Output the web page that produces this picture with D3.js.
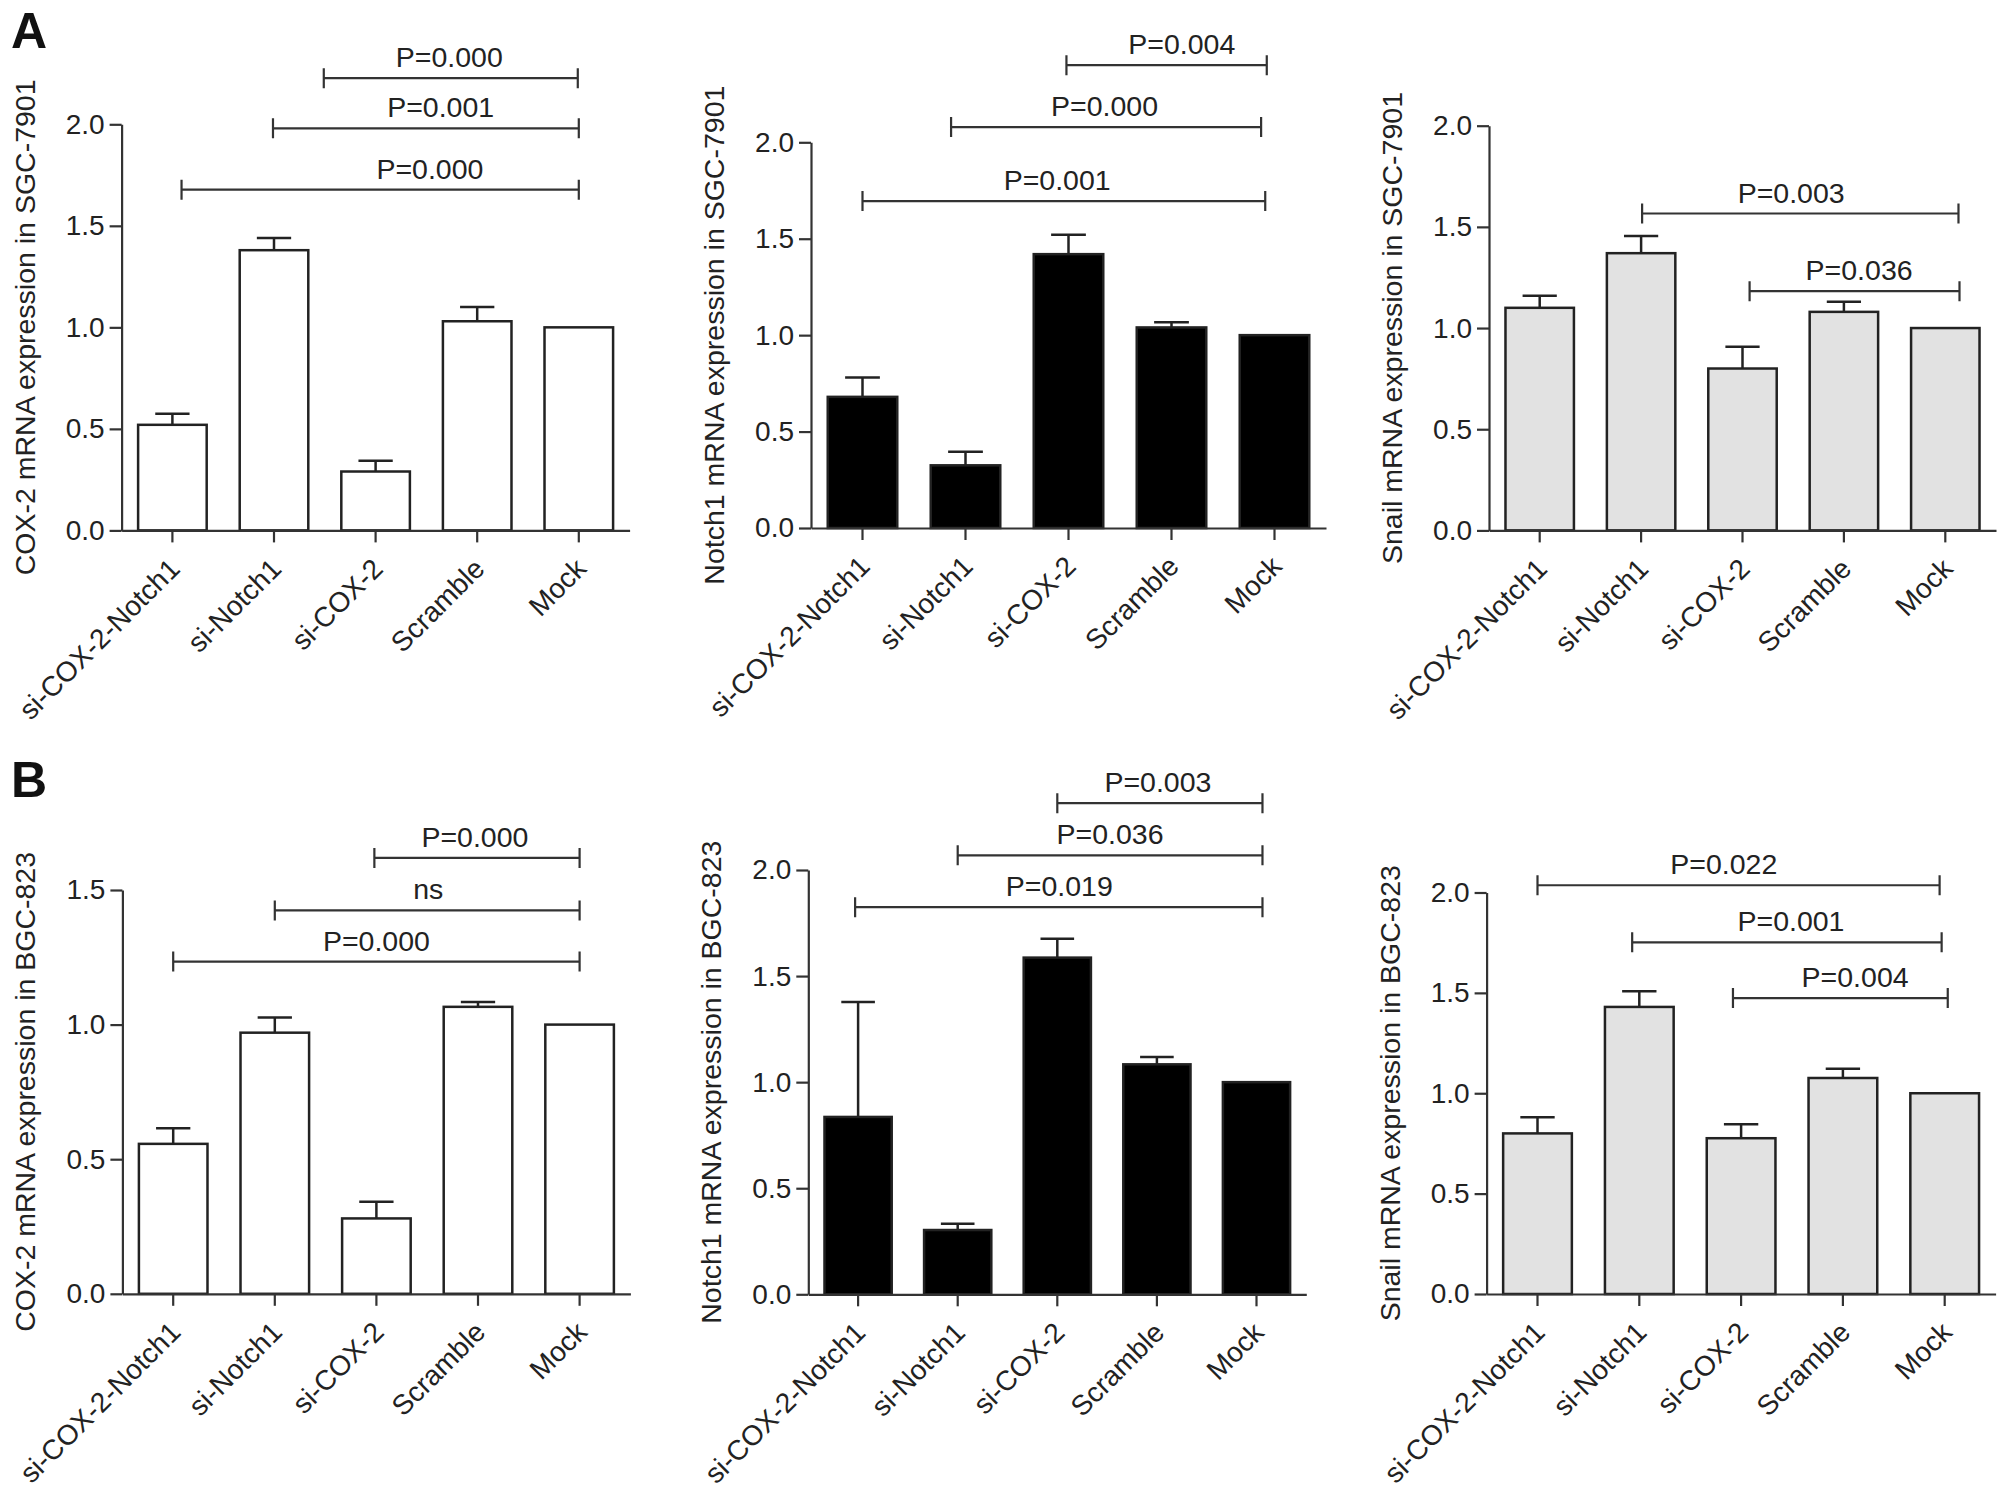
<!DOCTYPE html>
<html>
<head>
<meta charset="utf-8">
<script src="https://cdn.jsdelivr.net/npm/d3@7"></script>
<style>
	body { margin: 0; background: #fff; }
</style>
</head>
<body>
<div id="chart"></div>
<script>
// groups on the x axis, same for all six panels
var categories = ["si-COX-2-Notch1", "si-Notch1", "si-COX-2", "Scramble", "Mock"];

// mean and upper error (SEM)
var cox2Sgc = [0.52, 1.38, 0.29, 1.03, 1.00];
var cox2SgcErr = [0.055, 0.06, 0.053, 0.07, 0];
var notch1Sgc = [0.68, 0.325, 1.42, 1.04, 1.00];
var notch1SgcErr = [0.10, 0.07, 0.10, 0.027, 0];
var snailSgc = [1.10, 1.37, 0.80, 1.08, 1.00];
var snailSgcErr = [0.06, 0.085, 0.107, 0.05, 0];

var cox2Bgc = [0.557, 0.97, 0.28, 1.066, 1.00];
var cox2BgcErr = [0.058, 0.056, 0.062, 0.018, 0];
var notch1Bgc = [0.836, 0.303, 1.587, 1.084, 1.00];
var notch1BgcErr = [0.542, 0.03, 0.089, 0.034, 0];
var snailBgc = [0.80, 1.43, 0.776, 1.076, 1.00];
var snailBgcErr = [0.08, 0.078, 0.07, 0.046, 0];

// y axis ticks
var ticks2 = [0, 0.5, 1.0, 1.5, 2.0];
var ticks15 = [0, 0.5, 1.0, 1.5];

// significance brackets: from / to in group index, y in data units, label centre in group index
var pCox2Sgc = [
	{ from: 0.09, to: 4.0, y: 1.678, text: "P=0.000", at: 2.535 },
	{ from: 0.99, to: 4.0, y: 1.98, text: "P=0.001", at: 2.64 },
	{ from: 1.49, to: 3.99, y: 2.227, text: "P=0.000", at: 2.725 }
];
var pNotch1Sgc = [
	{ from: 0.0, to: 3.91, y: 1.695, text: "P=0.001", at: 1.89 },
	{ from: 0.86, to: 3.87, y: 2.079, text: "P=0.000", at: 2.35 },
	{ from: 1.98, to: 3.925, y: 2.40, text: "P=0.004", at: 3.10 }
];
var pSnailSgc = [
	{ from: 1.01, to: 4.13, y: 1.566, text: "P=0.003", at: 2.48 },
	{ from: 2.07, to: 4.14, y: 1.182, text: "P=0.036", at: 3.15 }
];
var pCox2Bgc = [
	{ from: 0.0, to: 4.0, y: 1.234, text: "P=0.000", at: 2.0 },
	{ from: 1.0, to: 4.0, y: 1.424, text: "ns", at: 2.51 },
	{ from: 1.98, to: 4.0, y: 1.619, text: "P=0.000", at: 2.97 }
];
var pNotch1Bgc = [
	{ from: -0.03, to: 4.06, y: 1.825, text: "P=0.019", at: 2.02 },
	{ from: 1.0, to: 4.06, y: 2.069, text: "P=0.036", at: 2.53 },
	{ from: 2.0, to: 4.06, y: 2.315, text: "P=0.003", at: 3.01 }
];
var pSnailBgc = [
	{ from: 0.0, to: 3.95, y: 2.036, text: "P=0.022", at: 1.83 },
	{ from: 0.93, to: 3.97, y: 1.752, text: "P=0.001", at: 2.49 },
	{ from: 1.92, to: 4.03, y: 1.474, text: "P=0.004", at: 3.12 }
];

var FONT = "'Liberation Sans', Arial, sans-serif";
var INK = "#222";

var svg = d3.select("#chart")
	.append("svg")
	.attr("width", 2007)
	.attr("height", 1500)
	.style("font-family", FONT);

svg.append("rect").attr("width", 2007).attr("height", 1500).attr("fill", "#fff");

// panel frames
var panels = [
	{ values: cox2Sgc, err: cox2SgcErr, p: pCox2Sgc, max: 2, ticks: ticks2, fill: "#fff",
		title: "COX-2 mRNA expression in SGC-7901", left: 121.6, width: 508, top: 124.3, bottom: 530.4 },
	{ values: notch1Sgc, err: notch1SgcErr, p: pNotch1Sgc, max: 2, ticks: ticks2, fill: "#000",
		title: "Notch1 mRNA expression in SGC-7901", left: 811, width: 515, top: 142.3, bottom: 528 },
	{ values: snailSgc, err: snailSgcErr, p: pSnailSgc, max: 2, ticks: ticks2, fill: "#e2e2e2",
		title: "Snail mRNA expression in SGC-7901", left: 1489, width: 507, top: 125.7, bottom: 530.4 },
	{ values: cox2Bgc, err: cox2BgcErr, p: pCox2Bgc, max: 1.5, ticks: ticks15, fill: "#fff",
		title: "COX-2 mRNA expression in BGC-823", left: 122.4, width: 508, top: 890, bottom: 1293.8 },
	{ values: notch1Bgc, err: notch1BgcErr, p: pNotch1Bgc, max: 2, ticks: ticks2, fill: "#000",
		title: "Notch1 mRNA expression in BGC-823", left: 808.3, width: 498, top: 870, bottom: 1294.3 },
	{ values: snailBgc, err: snailBgcErr, p: pSnailBgc, max: 2, ticks: ticks2, fill: "#e2e2e2",
		title: "Snail mRNA expression in BGC-823", left: 1486.6, width: 509, top: 892.5, bottom: 1294 }
];

panels.forEach(drawPanel);

// panel letters
svg.append("text").attr("x", 11).attr("y", 48).text("A")
	.style("font-size", "50px").style("font-weight", "bold").attr("fill", "#111");
svg.append("text").attr("x", 11).attr("y", 797).text("B")
	.style("font-size", "50px").style("font-weight", "bold").attr("fill", "#111");

function drawPanel(p) {
	var g = svg.append("g");

	var x = d3.scaleBand()
		.domain(categories)
		.range([p.left, p.left + p.width])
		.paddingInner(0.325)
		.paddingOuter(0.1625);
	var y = d3.scaleLinear()
		.domain([0, p.max])
		.range([p.bottom, p.top]);
	var bw = x.bandwidth();
	var cx = function(i) { return x(categories[i]) + bw / 2; };
	// bracket positions are given in group index
	var idx = d3.scaleLinear().domain([0, 4]).range([cx(0), cx(4)]);

	// error bars (upper only)
	var eb = g.selectAll(".err")
		.data(p.values.map(function(d, i) { return { m: d, e: p.err[i], i: i }; }).filter(function(d) { return d.e > 0; }))
		.join("g")
		.attr("class", "err")
		.attr("stroke", INK)
		.attr("stroke-width", 2.5);
	eb.append("line")
		.attr("x1", function(d) { return cx(d.i); })
		.attr("x2", function(d) { return cx(d.i); })
		.attr("y1", function(d) { return y(d.m); })
		.attr("y2", function(d) { return y(d.m + d.e); });
	eb.append("line")
		.attr("x1", function(d) { return cx(d.i) - bw / 4; })
		.attr("x2", function(d) { return cx(d.i) + bw / 4; })
		.attr("y1", function(d) { return y(d.m + d.e); })
		.attr("y2", function(d) { return y(d.m + d.e); });

	// bars
	g.selectAll(".bar")
		.data(p.values)
		.join("rect")
		.attr("class", "bar")
		.attr("x", function(d, i) { return x(categories[i]); })
		.attr("y", function(d) { return y(d); })
		.attr("width", bw)
		.attr("height", function(d) { return y(0) - y(d); })
		.attr("fill", p.fill)
		.attr("stroke", INK)
		.attr("stroke-width", 2.5);

	// y axis
	var ya = g.append("g")
		.attr("transform", `translate(${p.left},0)`)
		.call(d3.axisLeft(y).tickValues(p.ticks).tickFormat(d3.format(".1f")).tickSize(12).tickSizeOuter(0).tickPadding(5));
	// x axis
	var xa = g.append("g")
		.attr("transform", `translate(0,${p.bottom})`)
		.call(d3.axisBottom(x).tickSize(12).tickSizeOuter(0));

	[ya, xa].forEach(function(a) {
		a.selectAll("path, line").attr("stroke", "#333").attr("stroke-width", 2.2);
		a.selectAll("text").attr("fill", INK).style("font-size", "28px").style("font-family", FONT);
	});
	xa.selectAll(".tick text")
		.attr("x", 0).attr("y", 0).attr("dy", 0)
		.attr("transform", "translate(9,40) rotate(-45)")
		.style("text-anchor", "end");

	// axis title
	g.append("text")
		.attr("transform", `translate(${p.left - 87},${(p.top + p.bottom) / 2}) rotate(-90)`)
		.style("text-anchor", "middle")
		.style("font-size", "28.5px")
		.attr("fill", INK)
		.text(p.title);

	// significance brackets
	var br = g.selectAll(".br")
		.data(p.p)
		.join("g")
		.attr("class", "br");
	br.append("path")
		.attr("d", function(d) {
			var x1 = idx(d.from), x2 = idx(d.to), yy = y(d.y);
			return `M${x1},${yy - 10}V${yy + 10}M${x1},${yy}H${x2}M${x2},${yy - 10}V${yy + 10}`;
		})
		.attr("fill", "none")
		.attr("stroke", "#333")
		.attr("stroke-width", 2.2);
	br.append("text")
		.attr("x", function(d) { return idx(d.at); })
		.attr("y", function(d) { return y(d.y) - 11; })
		.style("text-anchor", "middle")
		.style("font-size", "28.5px")
		.attr("fill", INK)
		.text(function(d) { return d.text; });
}
</script>
</body>
</html>
